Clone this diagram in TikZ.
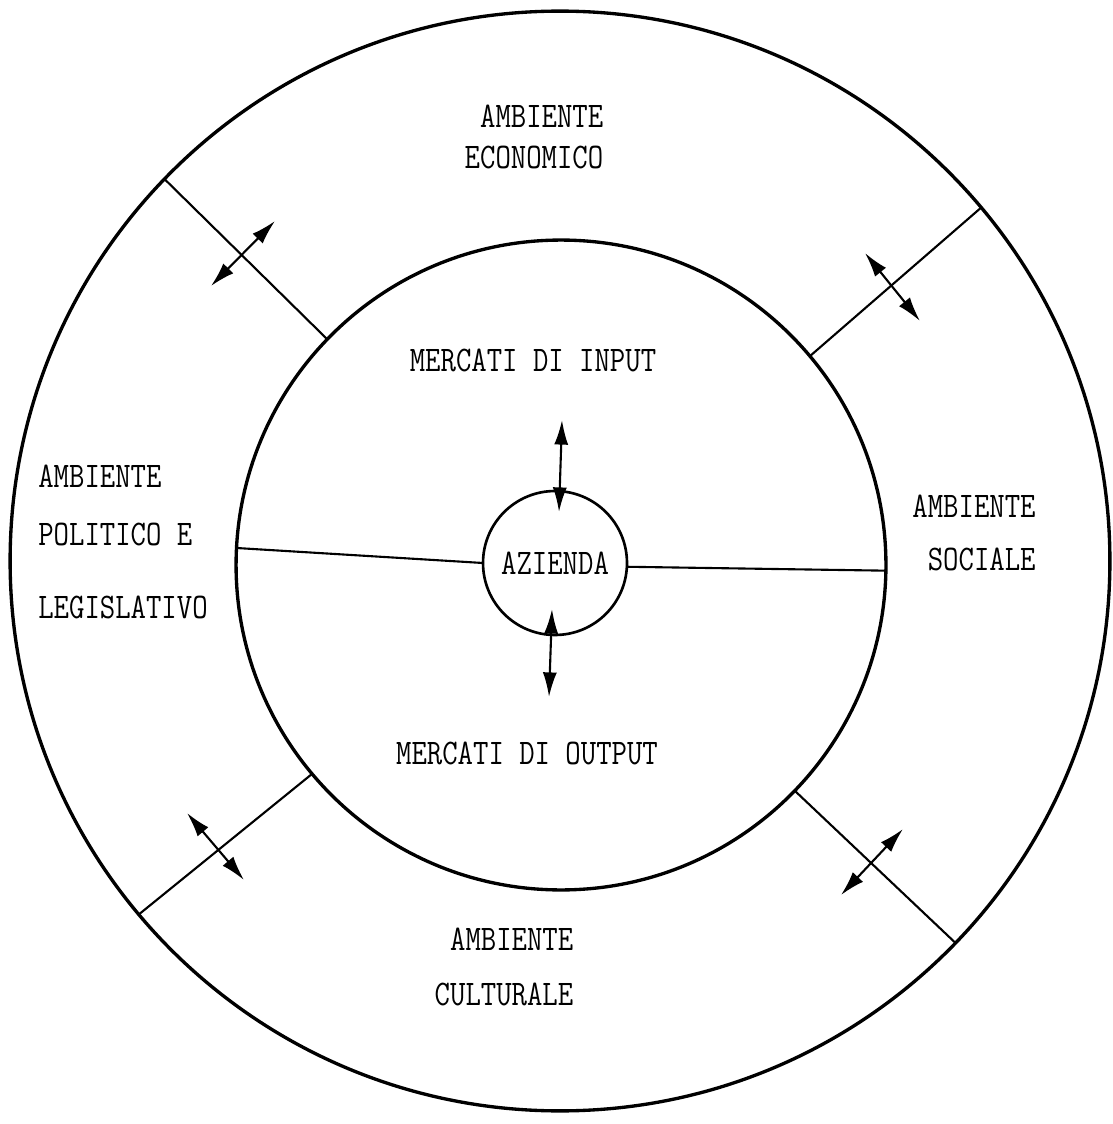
\documentclass[tikz,border=0pt]{standalone}
\usetikzlibrary{arrows.meta}
\newcommand{\typew}[1]{\scalebox{0.83}[1]{#1}}
\tikzset{
  ring/.style={circle,draw,inner sep=0pt,outer sep=0pt,line width=1.9pt},
  divider/.style={line width=1.2pt},
  dbl/.style={{Latex[length=14pt,width=8pt]}-{Latex[length=14pt,width=8pt]},line width=1.2pt},
  lbl/.style={font=\ttfamily\fontsize{20.5}{23}\selectfont,inner sep=0pt}
}
\begin{document}
\begin{tikzpicture}[x=0.02cm,y=-0.02cm,line cap=round]
  \useasboundingbox (0,0) rectangle (1112,1124);
  % rings
  \node[ring,minimum size=22cm] (ambiente) at (560,561) {};
  \node[ring,minimum size=13cm] (mercati) at (561,565) {};
  \node[ring,minimum size=2.88cm,line width=1.5pt,lbl] (azienda) at (555,563) {\typew{AZIENDA}};
  % sectors
  \draw[divider] (ambiente.136) -- (mercati.136);
  \draw[divider] (ambiente.40) -- (mercati.40);
  \draw[divider] (ambiente.220) -- (mercati.220);
  \draw[divider] (ambiente.316) -- (mercati.316);
  \draw[divider] (mercati.177) -- (azienda.180);
  \draw[divider] (azienda.357) -- (mercati.359);
  % exchanges
  \coordinate (ulA) at (211,286);
  \coordinate (ulB) at (275,221);
  \coordinate (urA) at (865,253);
  \coordinate (urB) at (920,321);
  \coordinate (llA) at (187,813);
  \coordinate (llB) at (244,880);
  \coordinate (lrA) at (903,829);
  \coordinate (lrB) at (841,895);
  \coordinate (inA) at (562,420);
  \coordinate (inB) at (559,512);
  \coordinate (outA) at (552,609);
  \coordinate (outB) at (549,697);
  \foreach \a/\b in {ulA/ulB,urA/urB,llA/llB,lrA/lrB,inA/inB,outA/outB}{
    \draw[dbl] (\a) -- (\b);
  }
  % labels
  \node[lbl,align=left] (economico) at (534,137) {\typew{\ AMBIENTE}\\\typew{ECONOMICO}};
  \node[lbl] (input) at (533,360) {\typew{MERCATI DI INPUT}};
  \node[lbl,align=left] (politico) at (123,542) {\typew{AMBIENTE}\\[9.9pt]\typew{POLITICO E}\\[18.4pt]\typew{LEGISLATIVO}};
  \node[lbl,align=left] (sociale) at (974,533) {\typew{AMBIENTE}\\[7.6pt]\typew{\ SOCIALE}};
  \node[lbl] (output) at (527,753) {\typew{MERCATI DI OUTPUT}};
  \node[lbl,align=left] (culturale) at (504,967) {\typew{\ AMBIENTE}\\[8.7pt]\typew{CULTURALE}};
\end{tikzpicture}
\end{document}
